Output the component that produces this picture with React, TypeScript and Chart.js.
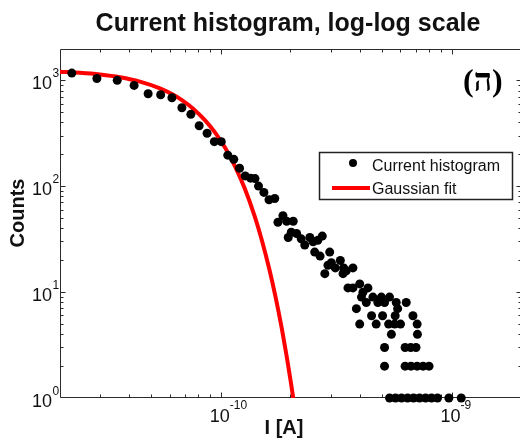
import React, { useEffect, useRef } from "react";
import { Chart, registerables } from "chart.js";

Chart.register(...registerables);

const SANS = "'Liberation Sans', Arial, Helvetica, sans-serif";
const SERIF = "'Liberation Serif', 'Times New Roman', serif";

const chartTitle = "Current histogram, log-log scale";
const xAxisTitle = "I [A]";
const yAxisTitle = "Counts";
const panelLabel = "(ה)";
const seriesLabels = ["Current histogram", "Gaussian fit"];

const xMin = 2e-11;
const xMax = 2e-9;
const yMin = 1;
const yMax = 2000;
const xTickExponents = [-10, -9];
const yTickExponents = [0, 1, 2, 3];

// measured histogram (current in A, counts)
const histCurrent = [
  2.25e-11, 2.89e-11, 3.54e-11, 4.19e-11, 4.82e-11, 5.46e-11, 6.11e-11, 6.75e-11, 7.38e-11, 8.02e-11,
  8.68e-11, 9.33e-11, 1.0e-10, 1.067e-10, 1.133e-10, 1.2e-10, 1.27e-10, 1.34e-10, 1.4e-10, 1.45e-10,
  1.53e-10, 1.61e-10, 1.705e-10, 1.76e-10, 1.85e-10, 1.92e-10, 2.05e-10, 1.95e-10, 2.01e-10, 2.12e-10,
  2.22e-10, 2.3e-10, 2.42e-10, 2.5e-10, 2.62e-10, 2.74e-10, 2.54e-10, 2.68e-10, 2.95e-10, 2.9e-10,
  3.0e-10, 3.12e-10, 3.28e-10, 3.39e-10, 3.48e-10, 3.72e-10, 2.81e-10, 3.37e-10,
  3.54e-10, 3.72e-10, 3.98e-10, 4.11e-10, 4.32e-10,
  4.05e-10, 4.54e-10, 4.94e-10, 5.36e-10,
  4.25e-10, 4.77e-10, 5.1e-10, 5.73e-10, 6.33e-10,
  3.85e-10, 5.81e-10,
  4.48e-10, 5.0e-10, 5.67e-10, 6.77e-10,
  3.98e-10, 4.69e-10, 5.31e-10, 5.64e-10, 5.98e-10, 7.06e-10,
  5.46e-10, 7.08e-10,
  5.1e-10, 6.26e-10, 6.62e-10, 6.98e-10,
  5.1e-10, 6.26e-10, 6.64e-10, 7.06e-10, 7.49e-10, 7.95e-10,
  5.36e-10, 5.69e-10, 6.04e-10, 6.42e-10, 6.81e-10, 7.23e-10, 7.68e-10, 8.15e-10, 8.65e-10, 9.69e-10, 1.096e-9,
];
const histCounts = [
  1183, 1053, 1011, 905, 754, 738, 691, 556, 482, 376,
  319, 266, 266, 198, 181, 149, 126, 120, 119, 101,
  88, 75, 77, 46, 53, 47, 47, 33, 37, 36,
  32, 28, 33, 30, 31, 34, 24, 22, 24, 18,
  19, 17, 20, 17, 16, 17, 15, 15,
  11, 11, 12, 10, 11,
  9, 9, 9, 9,
  8, 8, 8, 8, 8,
  7, 7,
  6, 6, 6, 6,
  5, 5, 5, 5, 5, 5,
  4, 4,
  3, 3, 3, 3,
  2, 2, 2, 2, 2, 2,
  1, 1, 1, 1, 1, 1, 1, 1, 1, 1, 1,
];

// Gaussian fit curve
const fitCurrent = [
  2.0e-11, 2.44e-11, 2.98e-11, 3.64e-11, 4.44e-11, 5.42e-11, 6.11e-11, 6.75e-11, 7.53e-11, 8.49e-11, 9.37e-11,
  1.036e-10, 1.144e-10, 1.264e-10, 1.396e-10, 1.497e-10, 1.622e-10, 1.722e-10, 1.827e-10, 1.921e-10, 2.0e-10, 2.07e-10,
];
const fitCounts = [
  1221, 1193, 1149, 1082, 984, 849, 749, 657, 548, 425, 327,
  235, 157, 95.8, 52.2, 31.4, 15.9, 8.85, 4.6, 2.47, 1.43, 0.865,
];

const AXIS_COLOR = "#2b2b2b";
const TEXT_COLOR = "#111";

const framePlugin = {
  id: "frameTicks",
  beforeDatasetsDraw(chart: any) {
    const { ctx, chartArea: a, scales } = chart;
    const xs = scales.x;
    const ys = scales.y;
    const L = Math.floor(a.left) + 0.5;
    const R = Math.floor(a.right) + 0.5;
    const T = Math.floor(a.top) + 0.5;
    const B = Math.ceil(a.bottom) - 0.5;
    ctx.save();
    ctx.strokeStyle = AXIS_COLOR;
    ctx.lineWidth = 1;
    ctx.beginPath();
    ctx.moveTo(L, T);
    ctx.lineTo(R, T);
    ctx.lineTo(R, B);
    ctx.lineTo(L, B);
    ctx.closePath();
    ctx.stroke();
    ctx.beginPath();
    for (let e = -12; e <= -8; e++) {
      for (let m = 1; m <= 9; m++) {
        const v = m * Math.pow(10, e);
        if (v <= xMin * 1.001 || v >= xMax * 0.999) continue;
        const p = Math.floor(xs.getPixelForValue(v)) + 0.5;
        const len = m === 1 ? 5 : 3;
        ctx.moveTo(p, B);
        ctx.lineTo(p, B - len);
        ctx.moveTo(p, T);
        ctx.lineTo(p, T + len);
      }
    }
    for (let e = 0; e <= 4; e++) {
      for (let m = 1; m <= 9; m++) {
        const v = m * Math.pow(10, e);
        if (v <= yMin * 1.001 || v >= yMax * 0.999) continue;
        const p = Math.floor(ys.getPixelForValue(v)) + 0.5;
        const len = m === 1 ? 5 : 3;
        ctx.moveTo(L, p);
        ctx.lineTo(L + len, p);
        ctx.moveTo(R, p);
        ctx.lineTo(R - len, p);
      }
    }
    ctx.stroke();
    ctx.restore();
  },
  afterDraw(chart: any) {
    const { ctx, scales } = chart;
    const xs = scales.x;
    const ys = scales.y;
    ctx.save();
    ctx.fillStyle = TEXT_COLOR;
    ctx.textBaseline = "alphabetic";

    // y tick labels 10^n
    for (const e of yTickExponents) {
      const p = ys.getPixelForValue(Math.pow(10, e));
      ctx.font = `18px ${SANS}`;
      ctx.textAlign = "right";
      ctx.fillText("10", 52, p + 8.5);
      ctx.font = `12px ${SANS}`;
      ctx.textAlign = "left";
      ctx.fillText(String(e), 52.5, p - 3.5);
    }
    // x tick labels 10^n
    for (const e of xTickExponents) {
      const p = xs.getPixelForValue(Math.pow(10, e)) - 1.5;
      ctx.font = `18px ${SANS}`;
      ctx.textAlign = "center";
      ctx.fillText("10", p, 422);
      const w = ctx.measureText("10").width;
      ctx.font = `12px ${SANS}`;
      ctx.textAlign = "left";
      ctx.fillText(String(e), p + w / 2, 409);
    }

    // chart title
    ctx.font = `bold 25px ${SANS}`;
    ctx.textAlign = "center";
    ctx.fillText(chartTitle, 288, 31);

    // x axis title
    ctx.font = `bold 20px ${SANS}`;
    ctx.fillText(xAxisTitle, 284, 434);

    // y axis title
    ctx.save();
    ctx.translate(18, 213);
    ctx.rotate(-Math.PI / 2);
    ctx.textBaseline = "middle";
    ctx.fillText(yAxisTitle, 0, 0);
    ctx.restore();

    // panel label
    ctx.font = `bold 32px ${SERIF}`;
    ctx.textAlign = "left";
    ctx.fillStyle = "#000";
    ctx.fillText(panelLabel, 463, 91);

    // legend
    const ds = chart.data.datasets;
    ctx.fillStyle = "#fff";
    ctx.fillRect(319, 152, 194, 48);
    ctx.strokeStyle = "#222";
    ctx.lineWidth = 1.5;
    ctx.strokeRect(319.5, 152.5, 193, 47);
    ctx.fillStyle = ds[0].backgroundColor;
    ctx.beginPath();
    ctx.arc(353, 163, 4, 0, Math.PI * 2);
    ctx.fill();
    ctx.strokeStyle = ds[1].borderColor;
    ctx.lineWidth = 4;
    ctx.beginPath();
    ctx.moveTo(332, 188);
    ctx.lineTo(370, 188);
    ctx.stroke();
    ctx.fillStyle = TEXT_COLOR;
    ctx.font = `16px ${SANS}`;
    ctx.textAlign = "left";
    ctx.fillText(ds[0].label, 372, 170.5);
    ctx.fillText(ds[1].label, 372, 193.5);
    ctx.restore();
  },
};

export default function App() {
  const ref = useRef<HTMLCanvasElement | null>(null);

  useEffect(() => {
    if (!ref.current) return;
    const chart = new Chart(ref.current, {
      type: "scatter",
      data: {
        datasets: [
          {
            label: seriesLabels[0],
            data: histCurrent.map((x, i) => ({ x, y: histCounts[i] })),
            backgroundColor: "#000000",
            borderColor: "#000000",
            borderWidth: 0,
            pointRadius: 4.5,
            pointHoverRadius: 4.5,
            showLine: false,
            clip: false,
          } as any,
          {
            label: seriesLabels[1],
            data: fitCurrent.map((x, i) => ({ x, y: fitCounts[i] })),
            borderColor: "#ff0000",
            backgroundColor: "#ff0000",
            borderWidth: 4,
            pointRadius: 0,
            pointHoverRadius: 0,
            showLine: true,
            cubicInterpolationMode: "monotone",
            clip: 0,
          } as any,
        ],
      },
      options: {
        responsive: false,
        animation: false,
        devicePixelRatio: 1,
        layout: { padding: { left: 60, top: 49, right: 8.5, bottom: 41 } },
        plugins: {
          legend: { display: false },
          tooltip: { enabled: false },
          title: { display: false },
        },
        events: [],
        scales: {
          x: {
            type: "logarithmic",
            min: xMin,
            max: xMax,
            display: false,
          },
          y: {
            type: "logarithmic",
            min: yMin,
            max: yMax,
            display: false,
          },
        },
      },
      plugins: [framePlugin],
    });
    return () => chart.destroy();
  }, []);

  return (
    <div
      style={{
        position: "fixed",
        left: 0,
        top: 0,
        width: 520,
        height: 439,
        overflow: "hidden",
        background: "#fff",
      }}
    >
      <canvas ref={ref} width={530} height={439} style={{ display: "block" }} />
    </div>
  );
}
